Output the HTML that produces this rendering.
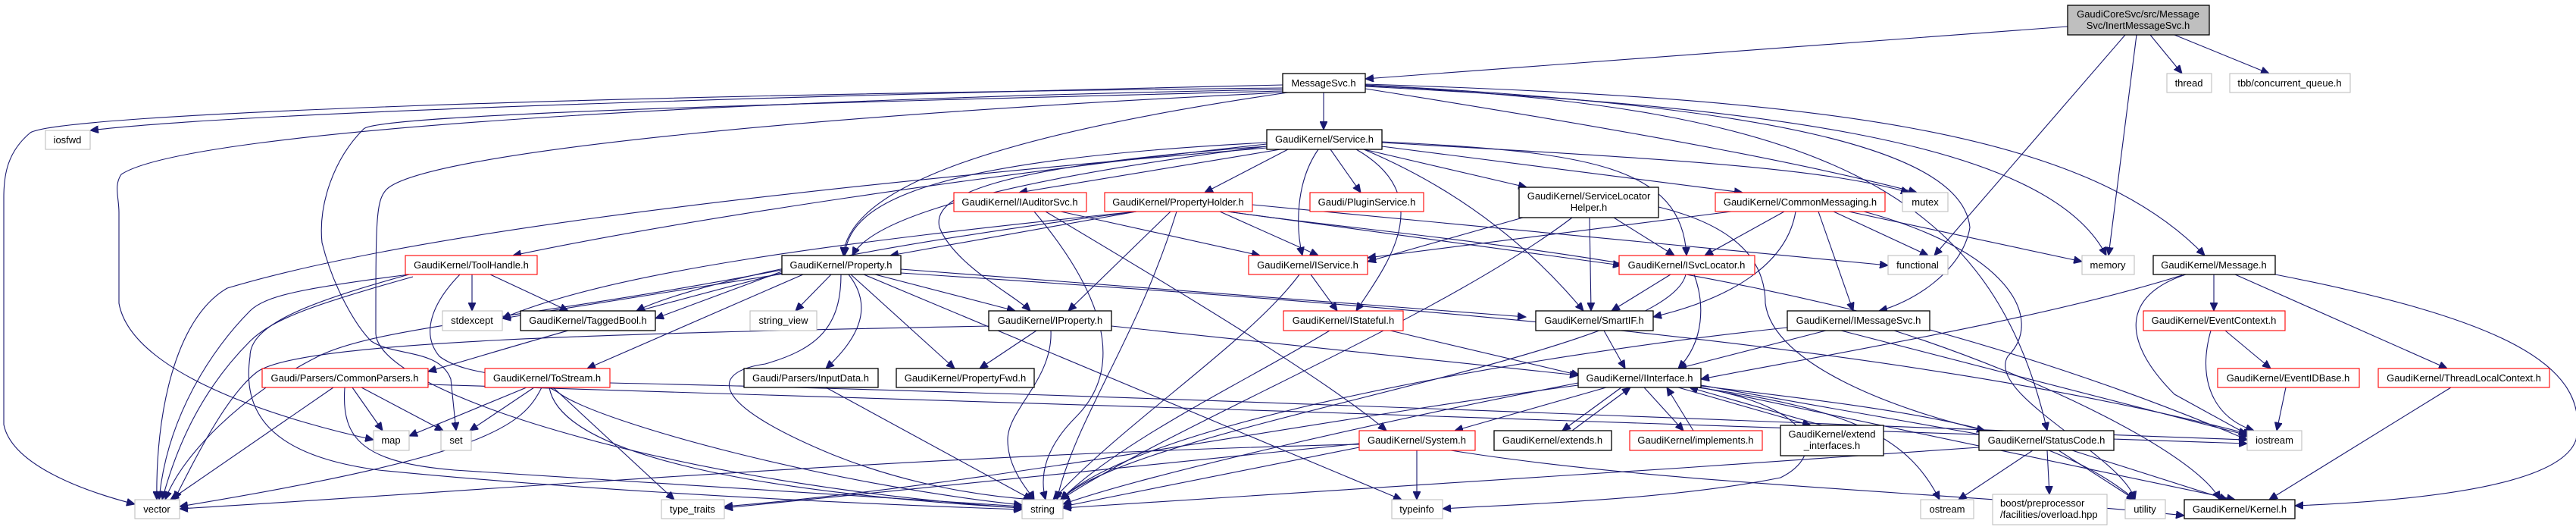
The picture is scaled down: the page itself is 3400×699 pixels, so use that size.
<!DOCTYPE html>
<html><head><meta charset="utf-8"><style>
html,body{margin:0;padding:0;background:#fff;}
svg{display:block;}
text{font-family:"Liberation Sans",sans-serif;font-size:13px;fill:#000;}
.e{fill:none;stroke:#191970;stroke-width:1.1;marker-end:url(#a);}
.b{fill:#fff;stroke:#000;stroke-width:1.3;}
.r{fill:#fff;stroke:#ff0000;stroke-width:1.1;}
.g{fill:#fff;stroke:#bfbfbf;stroke-width:1.1;}
</style></head><body>
<svg width="3400" height="699" viewBox="0 0 3400 699" xmlns="http://www.w3.org/2000/svg">
<defs><marker id="a" markerUnits="userSpaceOnUse" markerWidth="12" markerHeight="10" refX="11" refY="5" orient="auto"><path d="M0,0 L11,5 L0,10 z" fill="#191970" stroke="#191970"/></marker></defs>
<g>
<!-- Main -->
<path class="e" d="M2729,35 L1802,104"/>
<path class="e" d="M2838,46 L2880,97"/>
<path class="e" d="M2870,46 L2995,97"/>
<path class="e" d="M2820,46 L2783,337"/>
<path class="e" d="M2805,46 L2553,337"/>
<!-- MessageSvc -->
<path class="e" d="M1747,122 L1747,171"/>
<path class="e" d="M1693,112 C900,130 300,150 119,172"/>
<path class="e" d="M1693,116 C800,125 80,150 40,175 C10,200 5,230 5,260 L5,560 C15,610 100,645 178,665"/>
<path class="e" d="M1693,118 C1000,130 250,170 160,230 C150,245 157,260 157,280 L157,400 C175,500 400,560 493,580"/>
<path class="e" d="M1693,120 C1100,135 500,150 480,170 C440,210 420,270 425,320 C440,380 470,430 490,450 C520,470 580,460 595,500 L602,568"/>
<path class="e" d="M1693,122 C1100,150 560,200 510,250 C496,265 496,290 496,440 C500,520 900,640 1349,670"/>
<path class="e" d="M1700,122 C1300,180 1120,250 1113,337"/>
<path class="e" d="M1802,114 C2300,140 2700,180 2780,337"/>
<path class="e" d="M1802,111 C2400,130 2750,170 2910,337"/>
<path class="e" d="M1802,113 C2400,140 2630,250 2702,568"/>
<path class="e" d="M1802,112 C2350,140 2590,200 2600,300 C2590,360 2520,400 2480,410"/>
<path class="e" d="M1802,117 C2200,180 2400,220 2530,254"/>
<!-- Service -->
<path class="e" d="M1672,190 C1300,230 900,290 677,337"/>
<path class="e" d="M1672,188 C1250,210 1120,260 1115,337"/>
<path class="e" d="M1672,193 C1300,240 1150,290 1125,337"/>
<path class="e" d="M1672,195 C900,260 500,320 300,380 C230,420 205,550 207,659"/>
<path class="e" d="M1690,197 L1345,254"/>
<path class="e" d="M1700,197 L1590,254"/>
<path class="e" d="M1672,193 C1300,220 1230,260 1240,300 C1260,350 1340,390 1360,410"/>
<path class="e" d="M1756,197 L1796,254"/>
<path class="e" d="M1740,197 C1710,240 1710,300 1719,337"/>
<path class="e" d="M1790,197 C1900,260 1830,350 1790,410"/>
<path class="e" d="M1800,197 L2015,247"/>
<path class="e" d="M1824,193 L2300,254"/>
<path class="e" d="M1824,187 C2100,200 2220,220 2226,337"/>
<path class="e" d="M1800,197 C1950,260 2040,350 2090,410"/>
<path class="e" d="M1824,188 C2200,210 2400,220 2520,254"/>
<!-- PropertyHolder -->
<path class="e" d="M1500,279 L1175,337"/>
<path class="e" d="M1545,279 L1410,410"/>
<path class="e" d="M1553,279 C1500,450 1420,550 1395,659"/>
<path class="e" d="M1610,279 L1740,337"/>
<path class="e" d="M1620,279 L2140,350"/>
<path class="e" d="M1500,279 C1100,320 800,360 663,420"/>
<path class="e" d="M1500,279 C1100,330 900,380 840,410"/>
<path class="e" d="M1653,270 L2492,350"/>
<path class="e" d="M1620,279 C1900,320 2400,340 2966,580"/>
<!-- IAuditorSvc -->
<path class="e" d="M1400,279 L1663,337"/>
<path class="e" d="M1365,279 C1450,380 1490,480 1420,550 C1370,600 1375,640 1380,659"/>
<path class="e" d="M1380,279 C1550,380 1750,500 1830,568"/>
<!-- ToolHandle -->
<path class="e" d="M623,362 L623,410"/>
<path class="e" d="M647,362 L750,410"/>
<path class="e" d="M540,362 C400,380 350,390 330,410 C280,460 220,550 210,659"/>
<path class="e" d="M545,365 C420,400 360,420 330,450 C260,520 230,600 214,659"/>
<path class="e" d="M607,362 C570,400 555,440 580,470 C620,500 700,490 740,520 C800,560 1100,640 1349,666"/>
<path class="e" d="M540,362 C400,400 330,430 330,470 C320,540 350,600 500,620 C700,640 1000,660 1349,672"/>
<!-- Property.h -->
<path class="e" d="M1097,362 L1050,410"/>
<path class="e" d="M1155,362 L1340,410"/>
<path class="e" d="M1120,362 C1150,400 1140,440 1090,486"/>
<path class="e" d="M1123,362 L1260,486"/>
<path class="e" d="M1110,362 C1110,430 1080,460 1010,480 C940,490 930,530 1100,600 C1200,640 1300,655 1365,659"/>
<path class="e" d="M1140,362 L1850,659"/>
<path class="e" d="M1040,360 L663,420"/>
<path class="e" d="M1032,358 L865,420"/>
<path class="e" d="M1032,360 C800,420 700,450 565,490"/>
<path class="e" d="M1060,362 L775,486"/>
<path class="e" d="M1032,356 C700,420 500,430 420,470 C320,520 240,600 218,659"/>
<path class="e" d="M1189,355 L2014,418"/>
<path class="e" d="M1189,360 C1800,400 2500,450 2966,572"/>
<!-- IProperty -->
<path class="e" d="M1368,436 L1293,486"/>
<path class="e" d="M1387,436 C1390,500 1330,540 1330,580 C1330,620 1360,650 1365,659"/>
<path class="e" d="M1467,430 L2083,495"/>
<path class="e" d="M1305,430 C800,440 400,450 340,490 C300,520 260,600 230,659"/>
<path class="e" d="M1090,511 L1362,659"/>
<!-- IService / IStateful -->
<path class="e" d="M1730,362 L1765,410"/>
<path class="e" d="M1715,362 C1650,450 1480,560 1390,659"/>
<path class="e" d="M1835,436 L2085,495"/>
<path class="e" d="M1755,436 C1650,500 1480,580 1400,659"/>
<!-- SLH -->
<path class="e" d="M2010,287 L1805,345"/>
<path class="e" d="M2130,287 L2210,337"/>
<path class="e" d="M2098,287 L2100,410"/>
<path class="e" d="M2075,287 C1900,420 1550,560 1400,659"/>
<path class="e" d="M2189,273 C2300,300 2330,350 2330,400 C2340,480 2500,540 2620,568"/>
<!-- CommonMessaging -->
<path class="e" d="M2355,279 L2250,337"/>
<path class="e" d="M2285,279 L1805,340"/>
<path class="e" d="M2370,279 C2360,340 2300,390 2182,418"/>
<path class="e" d="M2400,279 L2446,410"/>
<path class="e" d="M2440,279 L2748,345"/>
<path class="e" d="M2420,279 L2545,337"/>
<path class="e" d="M2460,279 C2650,330 2700,420 2650,470 C2620,520 2800,600 2818,659"/>
<!-- ISvcLocator / SmartIF / IMessageSvc -->
<path class="e" d="M2205,362 L2127,410"/>
<path class="e" d="M2236,362 C2250,400 2250,450 2215,486"/>
<path class="e" d="M2225,362 C2200,470 1500,560 1400,659"/>
<path class="e" d="M2117,436 L2145,486"/>
<path class="e" d="M2410,436 L2215,486"/>
<path class="e" d="M2359,432 C2000,470 1500,560 1400,659"/>
<path class="e" d="M2430,436 L2970,575"/>
<path class="e" d="M2500,436 C2700,500 2900,600 2930,659"/>
<!-- IInterface -->
<path class="e" d="M2120,511 L1920,568"/>
<path class="e" d="M2140,511 L2062,568"/>
<path class="e" d="M2075,568 L2152,511"/>
<path class="e" d="M2170,511 L2222,568"/>
<path class="e" d="M2235,568 L2200,511"/>
<path class="e" d="M2215,511 L2390,561"/>
<path class="e" d="M2405,561 L2230,511"/>
<path class="e" d="M2245,508 L2625,575"/>
<path class="e" d="M2245,511 L2950,659"/>
<path class="e" d="M2240,511 C2450,540 2520,580 2560,659"/>
<path class="e" d="M2245,511 C2400,540 2410,600 2350,630 C2200,660 2000,665 1904,671"/>
<path class="e" d="M2083,505 C1800,560 1500,630 1403,665"/>
<path class="e" d="M2083,508 C1700,560 1300,640 956,668"/>
<path class="e" d="M2245,509 C2500,540 2700,560 2818,659"/>
<!-- System -->
<path class="e" d="M1870,594 L1870,659"/>
<path class="e" d="M1794,590 L1403,668"/>
<path class="e" d="M1794,585 L956,670"/>
<path class="e" d="M1794,586 C1200,600 600,650 237,671"/>
<path class="e" d="M1915,594 C2200,640 2600,650 2883,680"/>
<!-- StatusCode -->
<path class="e" d="M2683,594 L2585,659"/>
<path class="e" d="M2702,594 L2705,652"/>
<path class="e" d="M2717,594 L2818,659"/>
<path class="e" d="M2735,594 L2940,659"/>
<path class="e" d="M2612,590 C2200,620 1700,650 1403,670"/>
<!-- Message.h -->
<path class="e" d="M2922,362 L2922,410"/>
<path class="e" d="M2950,362 L3230,486"/>
<path class="e" d="M3003,362 C3300,420 3420,480 3400,580 C3380,640 3200,660 3029,667"/>
<path class="e" d="M2885,362 C2800,390 2800,450 2870,520 L2970,575"/>
<path class="e" d="M2880,363 C2700,420 2400,470 2245,500"/>
<path class="e" d="M2937,436 L2997,486"/>
<path class="e" d="M2918,436 C2900,500 2920,550 2975,568"/>
<path class="e" d="M3017,511 L3005,568"/>
<path class="e" d="M3235,511 L2995,659"/>
<!-- CommonParsers / ToStream -->
<path class="e" d="M465,511 L505,568"/>
<path class="e" d="M477,511 L585,568"/>
<path class="e" d="M440,511 L225,659"/>
<path class="e" d="M455,511 C450,580 480,610 600,620 L1349,668"/>
<path class="e" d="M565,507 C1200,530 2400,560 2966,585"/>
<path class="e" d="M695,511 L540,575"/>
<path class="e" d="M705,511 L620,568"/>
<path class="e" d="M715,511 C690,560 650,600 237,668"/>
<path class="e" d="M725,511 C740,600 1000,650 1349,670"/>
<path class="e" d="M730,511 L890,659"/>
<path class="e" d="M805,505 C1500,520 2400,560 2966,580"/>
</g>
<g>
<rect x="2729" y="7" width="187" height="39" fill="#bfbfbf" stroke="#000" stroke-width="1.3"/>
<text x="2822" y="23" text-anchor="middle">GaudiCoreSvc/src/Message</text>
<text x="2822" y="38" text-anchor="middle">Svc/InertMessageSvc.h</text>

<rect class="b" x="1693" y="97" width="109" height="25"/><text x="1747" y="114" text-anchor="middle">MessageSvc.h</text>
<rect class="g" x="2860" y="97" width="59" height="25"/><text x="2889" y="114" text-anchor="middle">thread</text>
<rect class="g" x="2943" y="97" width="159" height="25"/><text x="3022" y="114" text-anchor="middle">tbb/concurrent_queue.h</text>
<rect class="g" x="60" y="172" width="59" height="25"/><text x="89" y="189" text-anchor="middle">iosfwd</text>
<rect class="b" x="1672" y="171" width="152" height="26"/><text x="1748" y="188" text-anchor="middle">GaudiKernel/Service.h</text>

<rect class="r" x="1259" y="254" width="175" height="25"/><text x="1346" y="271" text-anchor="middle">GaudiKernel/IAuditorSvc.h</text>
<rect class="r" x="1458" y="254" width="195" height="25"/><text x="1555" y="271" text-anchor="middle">GaudiKernel/PropertyHolder.h</text>
<rect class="r" x="1729" y="254" width="150" height="25"/><text x="1804" y="271" text-anchor="middle">Gaudi/PluginService.h</text>
<rect class="b" x="2005" y="247" width="184" height="40"/><text x="2097" y="263" text-anchor="middle">GaudiKernel/ServiceLocator</text><text x="2097" y="278" text-anchor="middle">Helper.h</text>
<rect class="r" x="2264" y="254" width="224" height="25"/><text x="2376" y="271" text-anchor="middle">GaudiKernel/CommonMessaging.h</text>
<rect class="g" x="2511" y="254" width="60" height="25"/><text x="2541" y="271" text-anchor="middle">mutex</text>

<rect class="r" x="535" y="337" width="174" height="25"/><text x="622" y="354" text-anchor="middle">GaudiKernel/ToolHandle.h</text>
<rect class="b" x="1032" y="337" width="157" height="25"/><text x="1110" y="354" text-anchor="middle">GaudiKernel/Property.h</text>
<rect class="r" x="1648" y="337" width="157" height="25"/><text x="1726" y="354" text-anchor="middle">GaudiKernel/IService.h</text>
<rect class="r" x="2137" y="337" width="179" height="25"/><text x="2226" y="354" text-anchor="middle">GaudiKernel/ISvcLocator.h</text>
<rect class="g" x="2492" y="337" width="79" height="25"/><text x="2531" y="354" text-anchor="middle">functional</text>
<rect class="g" x="2748" y="337" width="69" height="25"/><text x="2782" y="354" text-anchor="middle">memory</text>
<rect class="b" x="2842" y="337" width="161" height="25"/><text x="2922" y="354" text-anchor="middle">GaudiKernel/Message.h</text>

<rect class="g" x="584" y="410" width="79" height="26"/><text x="623" y="427" text-anchor="middle">stdexcept</text>
<rect class="b" x="687" y="410" width="178" height="26"/><text x="776" y="427" text-anchor="middle">GaudiKernel/TaggedBool.h</text>
<rect class="g" x="990" y="410" width="88" height="26"/><text x="1034" y="427" text-anchor="middle">string_view</text>
<rect class="b" x="1305" y="410" width="162" height="26"/><text x="1386" y="427" text-anchor="middle">GaudiKernel/IProperty.h</text>
<rect class="r" x="1694" y="410" width="158" height="26"/><text x="1773" y="427" text-anchor="middle">GaudiKernel/IStateful.h</text>
<rect class="b" x="2027" y="410" width="155" height="26"/><text x="2104" y="427" text-anchor="middle">GaudiKernel/SmartIF.h</text>
<rect class="b" x="2359" y="410" width="188" height="26"/><text x="2453" y="427" text-anchor="middle">GaudiKernel/IMessageSvc.h</text>
<rect class="r" x="2829" y="410" width="187" height="26"/><text x="2922" y="427" text-anchor="middle">GaudiKernel/EventContext.h</text>

<rect class="r" x="346" y="486" width="219" height="25"/><text x="455" y="503" text-anchor="middle">Gaudi/Parsers/CommonParsers.h</text>
<rect class="r" x="640" y="486" width="165" height="25"/><text x="722" y="503" text-anchor="middle">GaudiKernel/ToStream.h</text>
<rect class="b" x="982" y="486" width="177" height="25"/><text x="1070" y="503" text-anchor="middle">Gaudi/Parsers/InputData.h</text>
<rect class="b" x="1183" y="486" width="182" height="25"/><text x="1274" y="503" text-anchor="middle">GaudiKernel/PropertyFwd.h</text>
<rect class="b" x="2083" y="486" width="162" height="25"/><text x="2164" y="503" text-anchor="middle">GaudiKernel/IInterface.h</text>
<rect class="r" x="2927" y="486" width="187" height="25"/><text x="3020" y="503" text-anchor="middle">GaudiKernel/EventIDBase.h</text>
<rect class="r" x="3139" y="486" width="226" height="25"/><text x="3252" y="503" text-anchor="middle">GaudiKernel/ThreadLocalContext.h</text>

<rect class="g" x="493" y="568" width="47" height="26"/><text x="516" y="585" text-anchor="middle">map</text>
<rect class="g" x="582" y="568" width="40" height="26"/><text x="602" y="585" text-anchor="middle">set</text>
<rect class="r" x="1794" y="568" width="153" height="26"/><text x="1870" y="585" text-anchor="middle">GaudiKernel/System.h</text>
<rect class="b" x="1972" y="568" width="155" height="26"/><text x="2049" y="585" text-anchor="middle">GaudiKernel/extends.h</text>
<rect class="r" x="2151" y="568" width="175" height="26"/><text x="2238" y="585" text-anchor="middle">GaudiKernel/implements.h</text>
<rect class="b" x="2350" y="561" width="136" height="40"/><text x="2418" y="577" text-anchor="middle">GaudiKernel/extend</text><text x="2418" y="592" text-anchor="middle">_interfaces.h</text>
<rect class="b" x="2612" y="568" width="178" height="26"/><text x="2701" y="585" text-anchor="middle">GaudiKernel/StatusCode.h</text>
<rect class="g" x="2966" y="568" width="72" height="26"/><text x="3002" y="585" text-anchor="middle">iostream</text>

<rect class="g" x="178" y="659" width="59" height="25"/><text x="207" y="676" text-anchor="middle">vector</text>
<rect class="g" x="873" y="659" width="83" height="25"/><text x="914" y="676" text-anchor="middle">type_traits</text>
<rect class="g" x="1349" y="659" width="54" height="25"/><text x="1376" y="676" text-anchor="middle">string</text>
<rect class="g" x="1837" y="659" width="67" height="25"/><text x="1870" y="676" text-anchor="middle">typeinfo</text>
<rect class="g" x="2535" y="659" width="70" height="25"/><text x="2570" y="676" text-anchor="middle">ostream</text>
<rect class="g" x="2630" y="652" width="151" height="40"/><text x="2640" y="668">boost/preprocessor</text><text x="2640" y="683">/facilities/overload.hpp</text>
<rect class="g" x="2805" y="659" width="53" height="25"/><text x="2831" y="676" text-anchor="middle">utility</text>
<rect class="b" x="2883" y="659" width="146" height="25"/><text x="2956" y="676" text-anchor="middle">GaudiKernel/Kernel.h</text>
</g>
</svg>
</body></html>
